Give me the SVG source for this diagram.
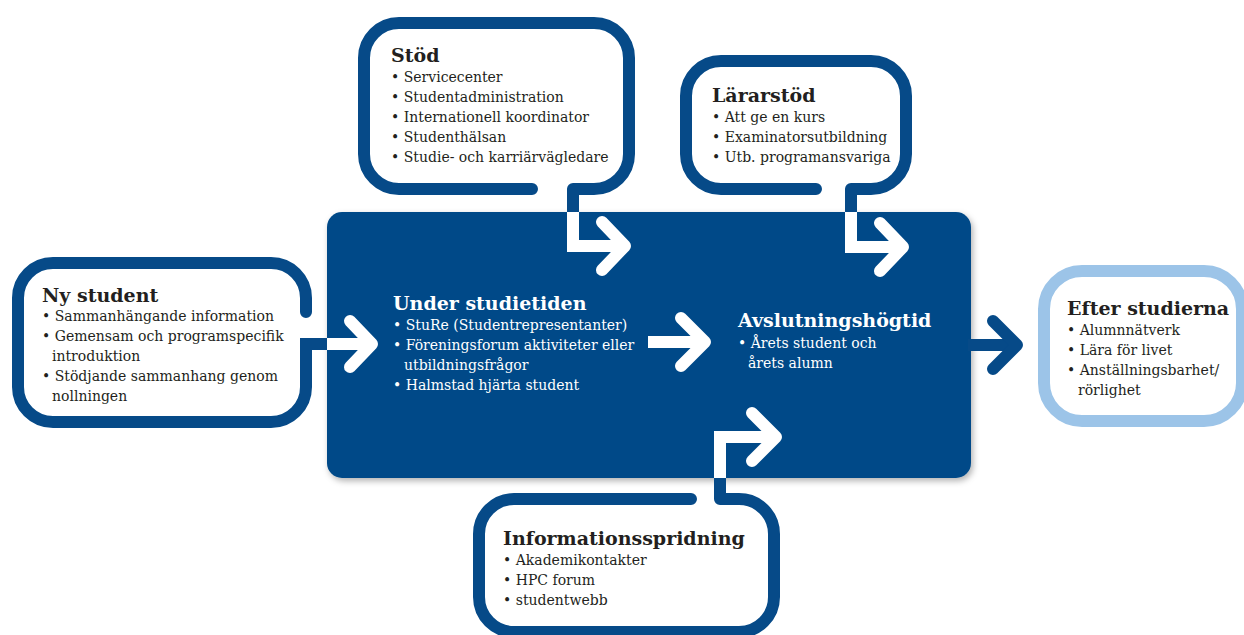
<svg xmlns="http://www.w3.org/2000/svg" width="1244" height="635" viewBox="0 0 1244 635">
<defs>
<filter id="sh" x="-5%" y="-5%" width="110%" height="115%">
<feDropShadow dx="2" dy="3" stdDeviation="3" flood-color="#000" flood-opacity="0.3"/>
</filter>
<style>
.ol{fill:none;stroke:#064a88;stroke-width:12;stroke-linecap:round;stroke-linejoin:miter}
.lb{fill:none;stroke:#9cc4e8;stroke-width:12}
.cd{fill:none;stroke:#064a88;stroke-width:12;stroke-linecap:butt;stroke-linejoin:miter}
.cw{fill:none;stroke:#fff;stroke-width:12;stroke-linecap:butt;stroke-linejoin:miter}
.ch{fill:none;stroke-width:12;stroke-linecap:round;stroke-linejoin:round}
.h{font-family:"DejaVu Serif",serif;font-weight:bold;font-size:19px;fill:#231f20}
.t{font-family:"DejaVu Serif",serif;font-size:14px;fill:#231f20}
.w{fill:#fff}
</style>
</defs>
<rect width="1244" height="635" fill="#fff"/>

<g id="under-studietiden">
<rect x="327" y="212" width="644" height="266" rx="15" fill="#064a88" filter="url(#sh)"/>
<text class="h w" x="393" y="310">Under studietiden</text>
<text class="t w" x="393" y="330">• StuRe (Studentrepresentanter)</text>
<text class="t w" x="393" y="350">• Föreningsforum aktiviteter eller</text>
<text class="t w" x="404" y="370">utbildningsfrågor</text>
<text class="t w" x="393" y="390">• Halmstad hjärta student</text>
</g>

<g id="avslutningshogtid">
<text class="h w" x="738" y="327">Avslutningshögtid</text>
<text class="t w" x="738" y="348">• Årets student och</text>
<text class="t w" x="748" y="368">årets alumn</text>
</g>

<g id="ny-student">
<path class="ol" d="M306,312 L306,298 A35,35 0 0 0 271,263 L53,263 A35,35 0 0 0 18,298 L18,387 A35,35 0 0 0 53,422 L271,422 A35,35 0 0 0 306,387 L306,344"/>
<text class="h" x="42" y="302">Ny student</text>
<text class="t" x="42" y="321">• Sammanhängande information</text>
<text class="t" x="42" y="341">• Gemensam och programspecifik</text>
<text class="t" x="52" y="361">introduktion</text>
<text class="t" x="42" y="381">• Stödjande sammanhang genom</text>
<text class="t" x="52" y="401">nollningen</text>
</g>

<g id="stod">
<path class="ol" d="M532,189 L399,189 A35,35 0 0 1 364,154 L364,58 A35,35 0 0 1 399,23 L594,23 A35,35 0 0 1 629,58 L629,154 A35,35 0 0 1 594,189 L573,189"/>
<text class="h" x="391" y="62">Stöd</text>
<text class="t" x="391" y="82">• Servicecenter</text>
<text class="t" x="391" y="102">• Studentadministration</text>
<text class="t" x="391" y="122">• Internationell koordinator</text>
<text class="t" x="391" y="142">• Studenthälsan</text>
<text class="t" x="391" y="162">• Studie- och karriärvägledare</text>
</g>

<g id="lararstod">
<path class="ol" d="M816,189 L721,189 A35,35 0 0 1 686,154 L686,96 A35,35 0 0 1 721,61 L871,61 A35,35 0 0 1 906,96 L906,154 A35,35 0 0 1 871,189 L851,189"/>
<text class="h" x="712" y="102">Lärarstöd</text>
<text class="t" x="712" y="122">• Att ge en kurs</text>
<text class="t" x="712" y="142">• Examinatorsutbildning</text>
<text class="t" x="712" y="162">• Utb. programansvariga</text>
</g>

<g id="informationsspridning">
<path class="ol" d="M691,499 L514,499 A35,35 0 0 0 479,534 L479,597 A35,35 0 0 0 514,632 L739,632 A35,35 0 0 0 774,597 L774,534 A35,35 0 0 0 739,499 L720,499"/>
<text class="h" x="503" y="545">Informationsspridning</text>
<text class="t" x="503" y="565">• Akademikontakter</text>
<text class="t" x="503" y="585">• HPC forum</text>
<text class="t" x="503" y="605">• studentwebb</text>
</g>

<g id="efter-studierna">
<rect class="lb" x="1044" y="271" width="198" height="150" rx="38"/>
<text class="h" x="1067" y="315">Efter studierna</text>
<text class="t" x="1067" y="335">• Alumnnätverk</text>
<text class="t" x="1067" y="355">• Lära för livet</text>
<text class="t" x="1067" y="375">• Anställningsbarhet/</text>
<text class="t" x="1078" y="395">rörlighet</text>
</g>

<g id="connectors">
<path class="cd" d="M306,380 L306,344 L330,344"/>
<path class="cw" d="M327,344 L370,344"/>
<path class="ch" stroke="#fff" d="M350,321 L372,344 L350,367"/>

<path class="cd" d="M573,189 L573,214"/>
<path class="cw" d="M573,212 L573,246 L622,246"/>
<path class="ch" stroke="#fff" d="M602,222 L625,246 L602,270"/>

<path class="cd" d="M851,189 L851,214"/>
<path class="cw" d="M851,212 L851,247 L900,247"/>
<path class="ch" stroke="#fff" d="M880,223 L903,247 L880,271"/>

<path class="cd" d="M720,499 L720,476"/>
<path class="cw" d="M720,478 L720,437 L773,437"/>
<path class="ch" stroke="#fff" d="M752,413 L776,437 L752,461"/>

<path class="cw" d="M648,342 L702,342"/>
<path class="ch" stroke="#fff" d="M681,318 L705,342 L681,366"/>

<path class="cd" d="M968,345 L1014,345"/>
<path class="ch" stroke="#064a88" d="M993,321 L1017,345 L993,369"/>
</g>
</svg>
